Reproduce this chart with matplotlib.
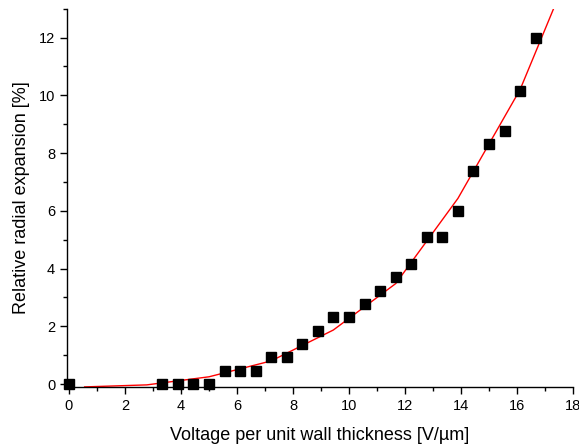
import matplotlib
matplotlib.use('Agg')
import matplotlib.pyplot as plt
from matplotlib import ticker

# measured points
voltage = [0.0, 3.33, 3.89, 4.44, 5.0, 5.56, 6.11, 6.67, 7.22, 7.78, 8.33, 8.89,
           9.44, 10.0, 10.56, 11.11, 11.67, 12.22, 12.78, 13.33, 13.89, 14.44,
           15.0, 15.56, 16.11, 16.67]
expansion = [0.0, 0.0, 0.0, 0.0, 0.0, 0.46, 0.46, 0.46, 0.92, 0.92, 1.38, 1.85,
             2.31, 2.31, 2.77, 3.23, 3.69, 4.15, 5.08, 5.08, 6.0, 7.38,
             8.31, 8.77, 10.15, 12.0]

# fitted curve
fit_x = [0.56, 2.78, 5.0, 7.22, 9.44, 11.67, 13.89, 16.11, 18.33]
fit_y = [-0.1, -0.03, 0.25, 0.8, 1.87, 3.48, 6.43, 10.2, 15.4]

plt.rcParams['font.family'] = ['Liberation Sans', 'DejaVu Sans']

fig = plt.figure(figsize=(5.79, 4.46), dpi=100)
ax = fig.add_axes([0.1157, 0.1325, 0.874, 0.848])

ax.plot(fit_x, fit_y, color='red', lw=1.0, zorder=2)
ax.plot(voltage, expansion, 's', color='black', markersize=7, zorder=3, clip_on=False)

ax.set_xlim(-0.07, 18)
ax.set_ylim(-0.1, 13)
ax.xaxis.set_major_locator(ticker.MultipleLocator(2))
ax.xaxis.set_minor_locator(ticker.MultipleLocator(1))
ax.yaxis.set_major_locator(ticker.MultipleLocator(2))
ax.yaxis.set_minor_locator(ticker.MultipleLocator(1))

ax.spines['top'].set_visible(False)
ax.spines['right'].set_visible(False)
for s in ('left', 'bottom'):
    ax.spines[s].set_linewidth(1.0)
ax.tick_params(which='major', direction='out', length=5, width=1.0, labelsize=10.5)
ax.tick_params(which='minor', direction='out', length=3, width=1.0)

ax.set_xlabel('Voltage per unit wall thickness [V/µm]', fontsize=13, labelpad=10)
ax.set_ylabel('Relative radial expansion [%]', fontsize=13, labelpad=6)

fig.savefig('out.png', dpi=100)
